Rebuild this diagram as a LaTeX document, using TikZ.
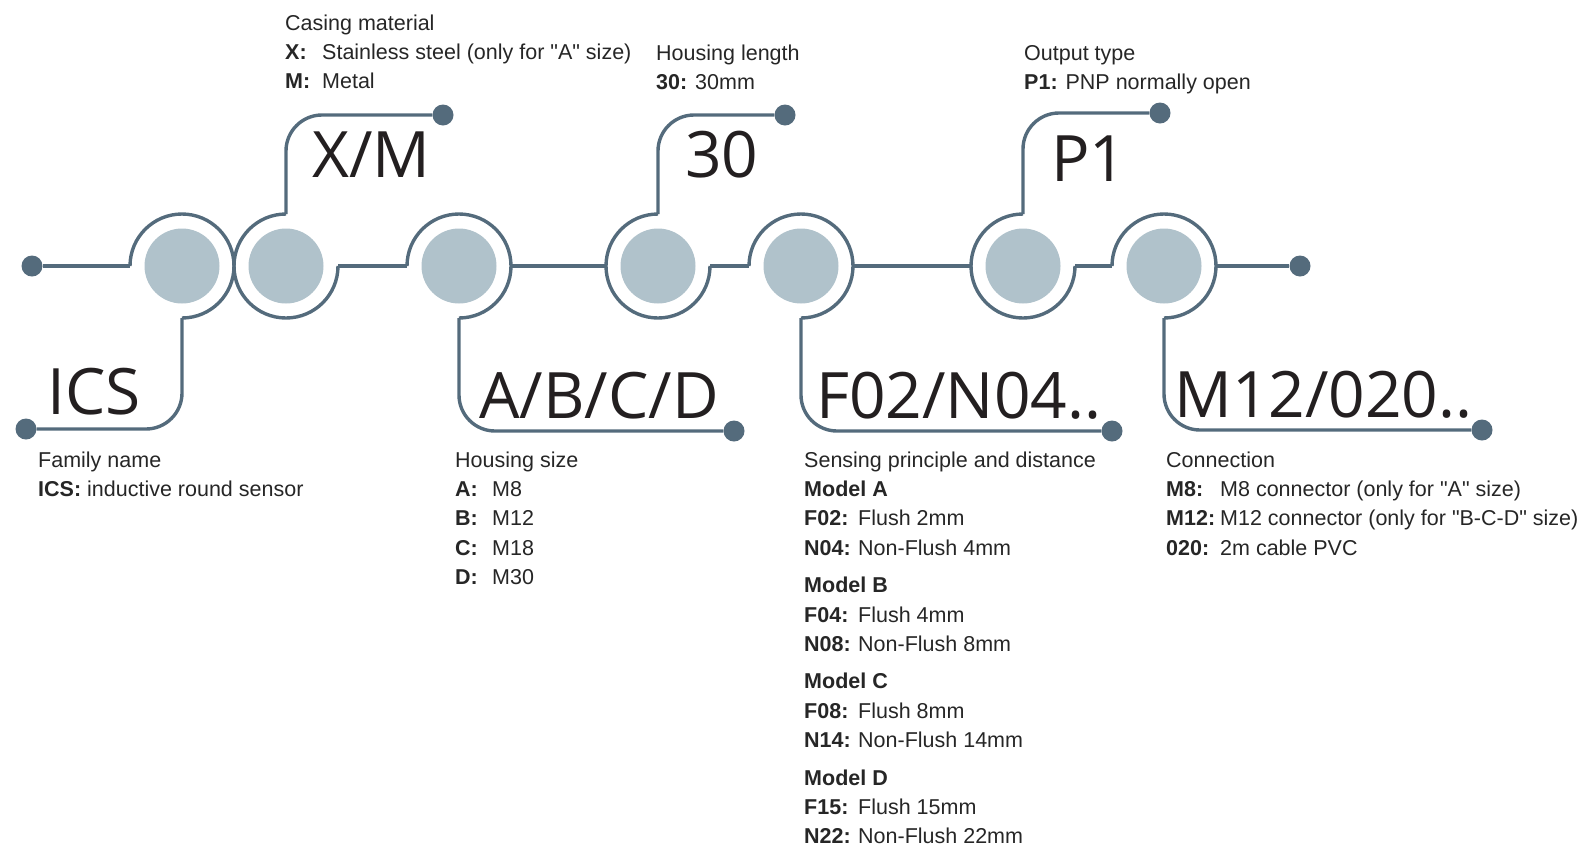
\documentclass[tikz,border=0pt]{standalone}
\usepackage{fontspec}
\setmainfont{Liberation Sans}[Ligatures=TeXOff]
\newfontfamily\codefont{Open Sans}
\usepackage{tikz}
\usetikzlibrary{calc}
\definecolor{cable}{HTML}{546B7C}
\definecolor{disco}{HTML}{B0C2CB}
\definecolor{tinta}{HTML}{231F20}
\tikzset{
  wire/.style={draw=cable,line width=3.4pt},
  leg/.style={wire,rounded corners=36pt},
  disc/.style={circle,fill=disco,minimum size=75pt,inner sep=0pt},
  dot/.style={circle,fill=cable,minimum size=21pt,inner sep=0pt},
  code/.style={anchor=base west,inner sep=0pt,text=tinta,font=\codefont\fontsize{64}{64}\selectfont},
  desc/.style={anchor=base west,inner sep=0pt,text=black!85,font=\fontsize{21.5}{29.4}\selectfont}
}
\newcommand{\kv}[3][37pt]{\makebox[#1][l]{\bfseries #2}#3}
\newcommand{\blk}[1]{\begin{tabular}[t]{@{}l@{}}#1\end{tabular}}

\begin{document}
\begin{tikzpicture}[x=1pt,y=1pt]
\useasboundingbox (0,0) rectangle (1590,-847);
% discs
\foreach \n/\x in {1/182,2/286,3/459,4/658,5/801,6/1023,7/1164}
  \node[disc] (c\n) at (\x,-266) {};
% end dots
\node[dot] (inL) at (32,-266) {};
\node[dot] (outR) at (1300,-266) {};
\node[dot] (dICS) at (26,-429) {};
\node[dot] (dXM) at (443,-115) {};
\node[dot] (dABCD) at (734,-431) {};
\node[dot] (dLen) at (785,-115) {};
\node[dot] (dSens) at (1112,-431) {};
\node[dot] (dOut) at (1160,-113) {};
\node[dot] (dConn) at (1482,-430) {};
% rings
\foreach \n in {1,3,5,7}
  \draw[wire] ($(c\n)+(-52,0)$) arc[start angle=180,end angle=-90,radius=52pt];
\foreach \n in {2,4,6}
  \draw[wire] ($(c\n)+(0,52)$) arc[start angle=90,end angle=360,radius=52pt];
% main line
\draw[wire] (inL) -- ($(c1)+(-52,0)$);
\foreach \a/\b in {2/3,3/4,4/5,5/6,6/7}
  \draw[wire] ($(c\a)+(52,0)$) -- ($(c\b)+(-52,0)$);
\draw[wire] ($(c7)+(52,0)$) -- (outR);
% legs
\draw[leg] ($(c1)+(0,-52)$) |- (dICS);
\draw[leg] ($(c2)+(0,52)$) |- (dXM);
\draw[leg] ($(c3)+(0,-52)$) |- (dABCD);
\draw[leg] ($(c4)+(0,52)$) |- (dLen);
\draw[leg] ($(c5)+(0,-52)$) |- (dSens);
\draw[leg] ($(c6)+(0,52)$) |- (dOut);
\draw[leg] ($(c7)+(0,-52)$) |- (dConn);
% codes
\node[code] (ics) at (47,-414) {ICS};
\node[code] (xm) at (312,-177) {X/M};
\node[code] (len) at (685,-177) {30};
\node[code] (out) at (1051,-181) {P1};
\node[code] (size) at (479,-418) {A/B/C/D};
\node[code] (sens) at (816,-418) {F02/N04..};
\node[code] (conn) at (1174,-417) {M12/020..};
% descriptions
\node[desc] (tCasing) at (285,-30) {\blk{Casing material\\
  \kv{X:}{Stainless steel (only for "A" size)}\\
  \kv{M:}{Metal}}};
\node[desc] (tLen) at (656,-60) {\blk{Housing length\\
  \textbf{30:} 30mm}};
\node[desc] (tOut) at (1024,-60) {\blk{Output type\\
  \textbf{P1:} PNP normally open}};
\node[desc] (tFam) at (38,-467) {\blk{Family name\\
  \textbf{ICS:} inductive round sensor}};
\node[desc] (tSize) at (455,-467) {\blk{Housing size\\
  \kv{A:}{M8}\\ \kv{B:}{M12}\\ \kv{C:}{M18}\\ \kv{D:}{M30}}};
\node[desc] (tSens) at (804,-467) {\blk{Sensing principle and distance\\
  \textbf{Model A}\\ \kv[54pt]{F02:}{Flush 2mm}\\ \kv[54pt]{N04:}{Non-Flush 4mm}\\[8pt]
  \textbf{Model B}\\ \kv[54pt]{F04:}{Flush 4mm}\\ \kv[54pt]{N08:}{Non-Flush 8mm}\\[8pt]
  \textbf{Model C}\\ \kv[54pt]{F08:}{Flush 8mm}\\ \kv[54pt]{N14:}{Non-Flush 14mm}\\[8pt]
  \textbf{Model D}\\ \kv[54pt]{F15:}{Flush 15mm}\\ \kv[54pt]{N22:}{Non-Flush 22mm}}};
\node[desc] (tConn) at (1166,-467) {\blk{Connection\\
  \kv[54pt]{M8:}{M8 connector (only for "A" size)}\\
  \kv[54pt]{M12:}{M12 connector (only for "B-C-D" size)}\\
  \kv[54pt]{020:}{2m cable PVC}}};
\end{tikzpicture}
\end{document}
